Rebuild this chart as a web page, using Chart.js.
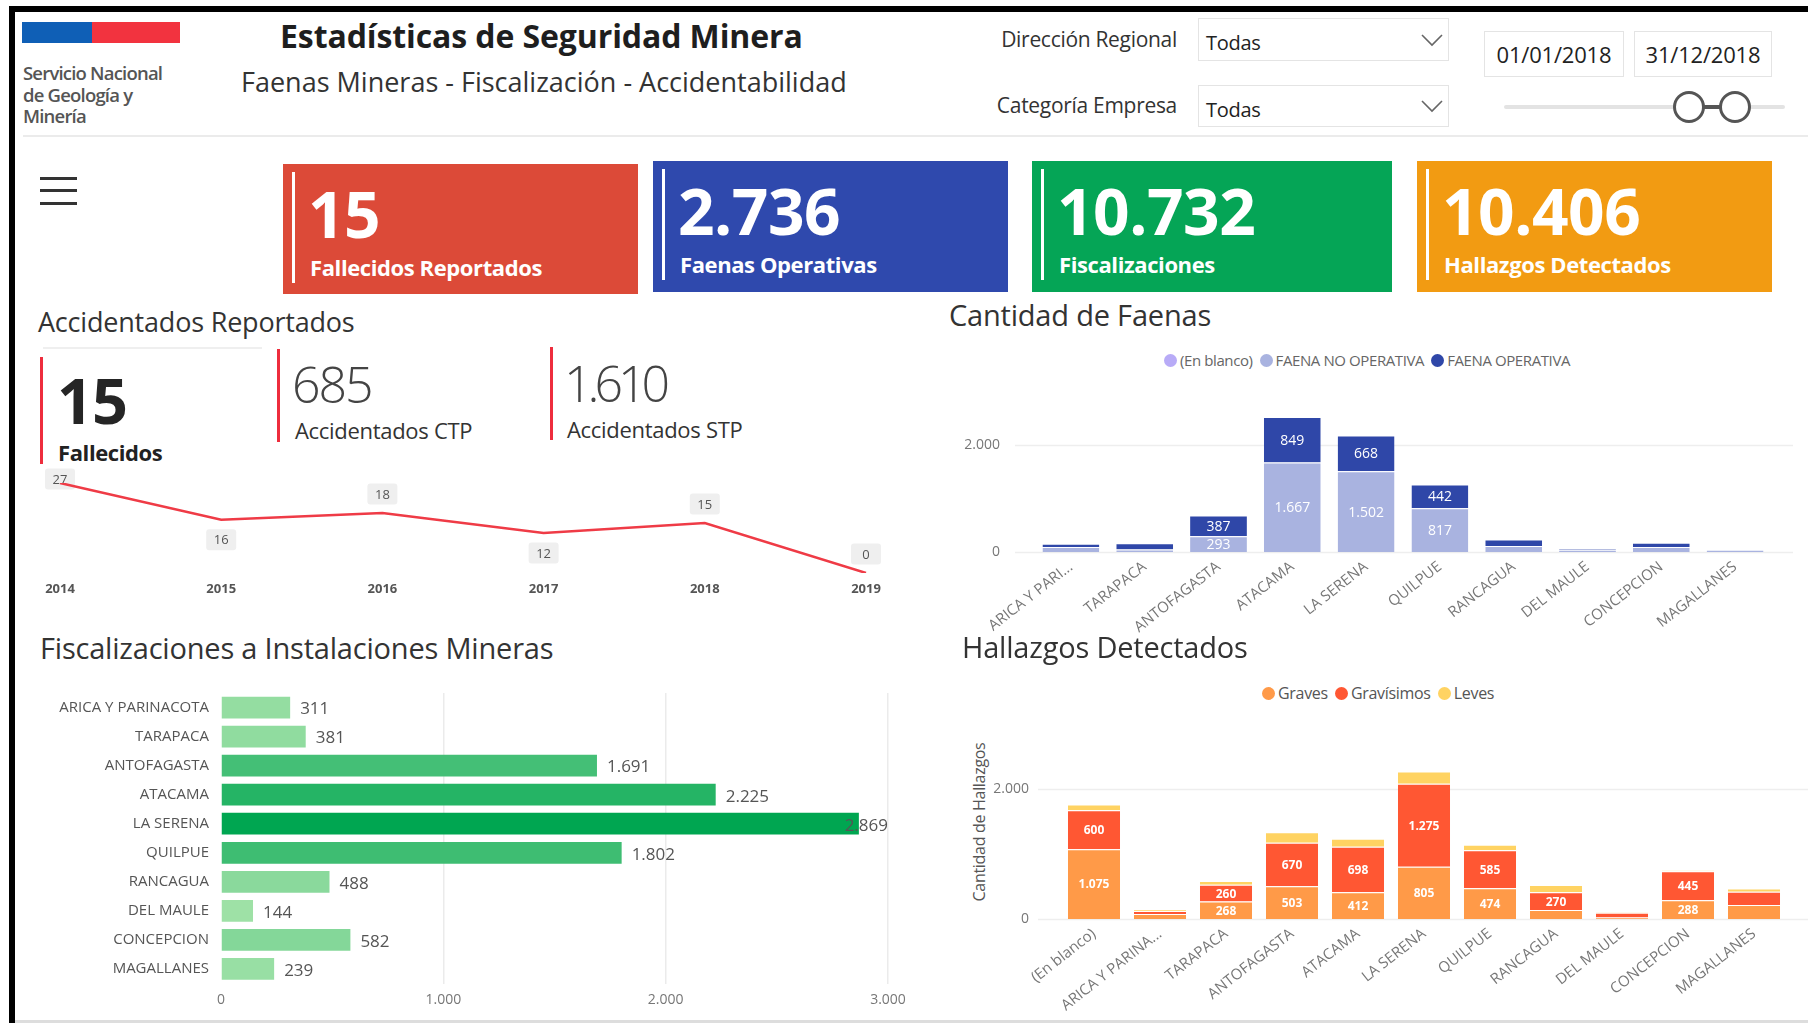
<!DOCTYPE html>
<html><head><meta charset="utf-8">
<script src="https://cdn.jsdelivr.net/npm/chart.js@4.4.1/dist/chart.umd.min.js"></script>
<style>
html,body{margin:0;padding:0;background:#fff;}
body{width:1808px;height:1023px;position:relative;overflow:hidden;font-family:'Open Sans',sans-serif;color:#333;}
.a{position:absolute;white-space:nowrap;}
canvas{position:absolute;}
.box{position:absolute;border:1px solid #E4E4E4;box-sizing:border-box;background:#fff;}
.card{position:absolute;color:#fff;}
.card .ln{position:absolute;left:9px;top:8px;width:3px;height:111px;background:#fff;}
.card .num{position:absolute;left:25px;top:14px;font-size:64px;font-weight:700;line-height:72px;letter-spacing:-0.5px;}
.card .lab{position:absolute;left:27px;top:88px;font-size:22px;font-weight:700;line-height:30px;letter-spacing:-0.4px;}
.ttl{font-size:29px;line-height:36px;color:#333;letter-spacing:-0.2px;}
.leg{position:absolute;display:flex;align-items:center;white-space:nowrap;}
.leg span.d{display:inline-block;border-radius:50%;margin-right:3px;}
.leg span.t{margin-right:7px;}
</style></head><body>

<!-- frame -->
<div class="a" style="left:9px;top:6px;width:1799px;height:6px;background:#000"></div>
<div class="a" style="left:9px;top:6px;width:6px;height:1017px;background:#000"></div>
<div class="a" style="left:15px;top:1020px;width:1793px;height:3px;background:#DDDDDD"></div>

<!-- logo -->
<div class="a" style="left:22px;top:22px;width:70px;height:21px;background:#0F5FB6"></div>
<div class="a" style="left:92px;top:22px;width:88px;height:21px;background:#F2333F"></div>
<div class="a" style="left:23px;top:62px;font-size:18.5px;font-weight:600;line-height:21.5px;color:#555;letter-spacing:-0.8px">Servicio Nacional<br>de Geología y<br>Minería</div>

<!-- titles -->
<div class="a" style="left:280px;top:14px;font-size:32px;font-weight:700;line-height:44px;color:#1E1E1E;letter-spacing:-0.1px">Estadísticas de Seguridad Minera</div>
<div class="a" style="left:241px;top:63px;font-size:27px;line-height:38px;color:#333;letter-spacing:0px">Faenas Mineras - Fiscalización - Accidentabilidad</div>

<!-- filters -->
<div class="a" style="right:631px;top:24px;font-size:21px;line-height:30px;color:#333;letter-spacing:-0.3px">Dirección Regional</div>
<div class="a" style="right:631px;top:90px;font-size:21px;line-height:30px;color:#333;letter-spacing:-0.3px">Categoría Empresa</div>
<div class="box" style="left:1198px;top:18px;width:251px;height:43px"></div>
<div class="a" style="left:1206px;top:28px;font-size:20px;line-height:30px;color:#222;letter-spacing:-0.3px">Todas</div>
<div class="box" style="left:1198px;top:85px;width:251px;height:42px"></div>
<div class="a" style="left:1206px;top:95px;font-size:20px;line-height:30px;color:#222;letter-spacing:-0.3px">Todas</div>
<svg class="a" style="left:1420px;top:33px" width="24" height="14"><polyline points="2,2 12,12 22,2" fill="none" stroke="#666" stroke-width="1.6"/></svg>
<svg class="a" style="left:1420px;top:99px" width="24" height="14"><polyline points="2,2 12,12 22,2" fill="none" stroke="#666" stroke-width="1.6"/></svg>
<div class="box" style="left:1484px;top:31px;width:140px;height:46px"></div>
<div class="a" style="left:1484px;top:39px;width:140px;text-align:center;font-size:22px;line-height:30px;color:#222;letter-spacing:-0.2px">01/01/2018</div>
<div class="box" style="left:1634px;top:31px;width:138px;height:46px"></div>
<div class="a" style="left:1634px;top:39px;width:138px;text-align:center;font-size:22px;line-height:30px;color:#222;letter-spacing:-0.2px">31/12/2018</div>
<!-- slider -->
<div class="a" style="left:1504px;top:105px;width:281px;height:4px;background:#E3E3E3;border-radius:2px"></div>
<div class="a" style="left:1689px;top:105px;width:46px;height:4px;background:#555"></div>
<div class="a" style="left:1673px;top:91px;width:26px;height:26px;border:3px solid #555;border-radius:50%;background:#fff"></div>
<div class="a" style="left:1719px;top:91px;width:26px;height:26px;border:3px solid #555;border-radius:50%;background:#fff"></div>

<div class="a" style="left:23px;top:135px;width:1785px;height:2px;background:#EBEBEB"></div>

<!-- hamburger -->
<div class="a" style="left:40px;top:177px;width:37px;height:3px;background:#333"></div>
<div class="a" style="left:40px;top:189px;width:37px;height:3px;background:#333"></div>
<div class="a" style="left:40px;top:202px;width:37px;height:3px;background:#333"></div>

<!-- KPI cards -->
<div class="card" style="left:283px;top:164px;width:355px;height:130px;background:#DC4A38"><div class="ln"></div><div class="num">15</div><div class="lab">Fallecidos Reportados</div></div>
<div class="card" style="left:653px;top:161px;width:355px;height:131px;background:#2F49AD"><div class="ln"></div><div class="num">2.736</div><div class="lab">Faenas Operativas</div></div>
<div class="card" style="left:1032px;top:161px;width:360px;height:131px;background:#05A556"><div class="ln"></div><div class="num">10.732</div><div class="lab">Fiscalizaciones</div></div>
<div class="card" style="left:1417px;top:161px;width:355px;height:131px;background:#F29B12"><div class="ln"></div><div class="num">10.406</div><div class="lab">Hallazgos Detectados</div></div>

<!-- Accidentados -->
<div class="a ttl" style="left:38px;top:304px;font-size:27px">Accidentados Reportados</div>
<div class="a" style="left:43px;top:347px;width:219px;height:2px;background:#EFEFEF"></div>
<div class="a" style="left:40px;top:357px;width:3px;height:107px;background:#EE2D3D"></div>
<div class="a" style="left:277px;top:349px;width:3px;height:93px;background:#EE2D3D"></div>
<div class="a" style="left:550px;top:347px;width:3px;height:93px;background:#EE2D3D"></div>
<div class="a" style="left:57px;top:364px;font-size:63px;font-weight:700;line-height:72px;color:#252525;letter-spacing:-1px">15</div>
<div class="a" style="left:58px;top:437px;font-size:22px;font-weight:700;line-height:30px;color:#222;letter-spacing:-0.4px">Fallecidos</div>
<div class="a" style="left:292px;top:354px;font-size:50px;font-weight:300;line-height:60px;color:#444;letter-spacing:-2px">685</div>
<div class="a" style="left:295px;top:415px;font-size:22px;line-height:30px;color:#333;letter-spacing:-0.3px">Accidentados CTP</div>
<div class="a" style="left:564px;top:353px;font-size:50px;font-weight:300;line-height:60px;color:#444;letter-spacing:-5px">1.610</div>
<div class="a" style="left:567px;top:414px;font-size:22px;line-height:30px;color:#333;letter-spacing:-0.3px">Accidentados STP</div>
<canvas id="lineChart" width="920" height="170" style="left:0px;top:440px"></canvas>

<!-- Faenas -->
<div class="a ttl" style="left:949px;top:297px">Cantidad de Faenas</div>
<div class="leg" id="legFaenas" style="left:1164px;top:350px;height:20px;font-size:15px;color:#666;letter-spacing:-0.4px"></div>
<canvas id="faenasChart" width="868" height="270" style="left:940px;top:370px"></canvas>

<!-- Fiscalizaciones -->
<div class="a ttl" style="left:40px;top:630px">Fiscalizaciones a Instalaciones Mineras</div>
<canvas id="fiscChart" width="900" height="348.5" style="left:20px;top:671.5px"></canvas>

<!-- Hallazgos -->
<div class="a ttl" style="left:962px;top:629px">Hallazgos Detectados</div>
<div class="leg" id="legHall" style="left:1262px;top:683px;height:20px;font-size:16px;color:#555;letter-spacing:-0.3px"></div>
<div class="a" style="left:979px;top:822px;font-size:16px;line-height:20px;color:#555;letter-spacing:-0.3px;transform:translate(-50%,-50%) rotate(-90deg)">Cantidad de Hallazgos</div>
<canvas id="hallChart" width="868" height="323" style="left:940px;top:700px"></canvas>

<script>
// ---------- DATA ----------
const years = ['2014','2015','2016','2017','2018','2019'];
const fallecidos = [27, 16, 18, 12, 15, 0];
const fallecidosLabelPos = ['above','below','above','below','above','above'];

const faenasRegions = ['ARICA Y PARI...','TARAPACA','ANTOFAGASTA','ATACAMA','LA SERENA','QUILPUE','RANCAGUA','DEL MAULE','CONCEPCION','MAGALLANES'];
const faenasEnBlanco    = [0, 0, 0, 0, 0, 0, 0, 0, 0, 0];
const faenasNoOperativa = [95, 45, 293, 1667, 1502, 817, 110, 40, 95, 40];
const faenasOperativa   = [60, 120, 387, 849, 668, 442, 125, 20, 75, 5];
const faenasTicks = [0, 2000];

const fiscRegions = ['ARICA Y PARINACOTA','TARAPACA','ANTOFAGASTA','ATACAMA','LA SERENA','QUILPUE','RANCAGUA','DEL MAULE','CONCEPCION','MAGALLANES'];
const fiscValues = [311, 381, 1691, 2225, 2869, 1802, 488, 144, 582, 239];
const fiscTicks = [0, 1000, 2000, 3000];

const hallRegions = ['(En blanco)','ARICA Y PARINA...','TARAPACA','ANTOFAGASTA','ATACAMA','LA SERENA','QUILPUE','RANCAGUA','DEL MAULE','CONCEPCION','MAGALLANES'];
const hallGraves     = [1075, 77, 268, 503, 412, 805, 474, 140, 25, 288, 215];
const hallGravisimos = [600, 46, 260, 670, 698, 1275, 585, 270, 70, 445, 205];
const hallLeves      = [87, 20, 55, 160, 125, 190, 85, 115, 8, 15, 50];
const hallTicks = [0, 2000];

// ---------- HELPERS ----------
Chart.defaults.font.family = "'Open Sans', sans-serif";
const fmt = v => String(v).replace(/\B(?=(\d{3})+(?!\d))/g, '.');

function buildLegend(id, items, size){
  const el = document.getElementById(id);
  items.forEach(it => {
    const d = document.createElement('span'); d.className='d';
    d.style.width = size+'px'; d.style.height = size+'px'; d.style.background = it.color;
    const t = document.createElement('span'); t.className='t'; t.textContent = it.label;
    el.appendChild(d); el.appendChild(t);
  });
}

const gridExt = {
  id:'gridExt',
  beforeDatasetsDraw(chart, args, opts){
    const {ctx} = chart; const y = chart.scales.y;
    ctx.save(); ctx.strokeStyle = opts.color; ctx.lineWidth = 1.5;
    opts.values.forEach(v => {
      const py = Math.round(y.getPixelForValue(v)) + 0.5;
      ctx.beginPath(); ctx.moveTo(opts.x0, py); ctx.lineTo(opts.x1, py); ctx.stroke();
    });
    ctx.restore();
  }
};

const stackLabels = {
  id:'stackLabels',
  afterDatasetsDraw(chart, args, opts){
    const {ctx} = chart;
    ctx.save();
    ctx.font = opts.font; ctx.textAlign='center'; ctx.textBaseline='middle';
    chart.data.datasets.forEach((ds, di) => {
      if (!ds.showLabels) return;
      const meta = chart.getDatasetMeta(di);
      meta.data.forEach((bar, i) => {
        const p = bar.getProps(['x','y','base'], true);
        const h = Math.abs(p.base - p.y);
        if (h < opts.minHeight) return;
        ctx.fillStyle = ds.labelColor || '#fff';
        ctx.fillText(fmt(ds.data[i]), p.x, (p.y + p.base)/2 + 1);
      });
    });
    ctx.restore();
  }
};

// ---------- LINE CHART ----------
const lineLabels = {
  id:'lineLabels',
  beforeDatasetsDraw(chart){
    const {ctx, chartArea} = chart;
    const meta = chart.getDatasetMeta(0);
    ctx.save();
    ctx.font = "13px 'Open Sans'"; ctx.textAlign='center'; ctx.textBaseline='middle';
    meta.data.forEach((pt, i) => {
      let cy = fallecidosLabelPos[i] === 'above' ? pt.y - 19 : pt.y + 20;
      cy = Math.max(cy, chartArea.top - 4);
      const w = 30, h = 21;
      ctx.fillStyle = '#EFEFEF';
      ctx.beginPath(); ctx.roundRect(pt.x - w/2, cy - h/2, w, h, 3); ctx.fill();
      ctx.fillStyle = '#555'; ctx.fillText(String(fallecidos[i]), pt.x, cy + 1);
    });
    ctx.restore();
  }
};
new Chart(document.getElementById('lineChart'), {
  type:'line',
  data:{labels:years, datasets:[{data:fallecidos, borderColor:'#EF3B46', borderWidth:2.5, pointRadius:0, tension:0, fill:false}]},
  options:{
    responsive:false, animation:false,
    plugins:{legend:{display:false}, tooltip:{enabled:false}},
    layout:{padding:{left:60, right:54, top:43, bottom:0}},
    scales:{
      x:{grid:{display:false, drawTicks:false}, border:{display:false},
         ticks:{font:{size:13, weight:'bold'}, color:'#555', padding:8, maxRotation:0, autoSkip:false},
         afterFit(s){ s.height = 37; }},
      y:{display:false, min:0, max:27}
    }
  },
  plugins:[lineLabels]
});

// ---------- FAENAS ----------
const faenasSeries = [
  {label:'(En blanco)', data:faenasEnBlanco, color:'#B8ABF7', showLabels:false},
  {label:'FAENA NO OPERATIVA', data:faenasNoOperativa, color:'#A9B3E0', showLabels:true},
  {label:'FAENA OPERATIVA', data:faenasOperativa, color:'#2F47A8', showLabels:true}
];
buildLegend('legFaenas', faenasSeries, 13);
new Chart(document.getElementById('faenasChart'), {
  type:'bar',
  data:{labels:faenasRegions, datasets:faenasSeries.map(s => ({label:s.label, data:s.data, backgroundColor:s.color, showLabels:s.showLabels, borderColor:'#fff', borderWidth:{top:1}, borderSkipped:'start', categoryPercentage:1, barPercentage:0.77}))},
  options:{
    responsive:false, animation:false,
    plugins:{legend:{display:false}, tooltip:{enabled:false},
      gridExt:{values:faenasTicks, x0:75, x1:853, color:'#EEEEEE'},
      stackLabels:{font:"14px 'Open Sans'", minHeight:15}},
    layout:{padding:{left:0, right:36, top:41.6, bottom:0}},
    scales:{
      x:{stacked:true, grid:{display:false, drawTicks:false}, border:{display:false},
         ticks:{font:{size:15}, color:'#777', padding:6, minRotation:38, maxRotation:38, autoSkip:false},
         afterFit(s){ s.height = 88; }},
      y:{stacked:true, min:0, max:2600, grid:{display:false, drawTicks:false}, border:{display:false},
         afterBuildTicks(s){ s.ticks = faenasTicks.map(v => ({value:v})); },
         ticks:{font:{size:14}, color:'#777', padding:34, callback:v => fmt(v)},
         afterFit(s){ s.width = 94; }}
    }
  },
  plugins:[gridExt, stackLabels]
});

// ---------- FISCALIZACIONES ----------
const maxFisc = Math.max(...fiscValues);
function greenFor(v){
  const t = v / maxFisc, a = [166,228,171], b = [0,166,81];
  return 'rgb(' + a.map((c,k) => Math.round(c + (b[k]-c)*t)).join(',') + ')';
}
const fiscLabels = {
  id:'fiscLabels',
  afterDatasetsDraw(chart){
    const {ctx, chartArea} = chart;
    const meta = chart.getDatasetMeta(0);
    ctx.save(); ctx.font = "17px 'Open Sans'"; ctx.fillStyle = '#555';
    ctx.textAlign='left'; ctx.textBaseline='middle';
    meta.data.forEach((bar, i) => {
      const txt = fmt(fiscValues[i]); const w = ctx.measureText(txt).width;
      let x = bar.x + 10; if (x + w > chartArea.right) x = chartArea.right - w;
      ctx.fillText(txt, x, bar.y + 2);
    });
    ctx.restore();
  }
};
new Chart(document.getElementById('fiscChart'), {
  type:'bar',
  data:{labels:fiscRegions, datasets:[{data:fiscValues, backgroundColor:fiscValues.map(greenFor), categoryPercentage:1, barPercentage:0.75}]},
  options:{
    indexAxis:'y', responsive:false, animation:false,
    plugins:{legend:{display:false}, tooltip:{enabled:false}},
    layout:{padding:{left:0, right:32, top:0, bottom:0}},
    scales:{
      y:{grid:{display:false, drawTicks:false}, border:{display:false},
         ticks:{font:{size:15}, color:'#555', padding:12, autoSkip:false},
         afterFit(s){ s.width = 201; }},
      x:{min:0, max:3000, border:{display:false},
         grid:{drawTicks:false, color:c => c.tick && c.tick.value === 0 ? 'rgba(0,0,0,0)' : '#EBEBEB', lineWidth:1.5},
         afterBuildTicks(s){ s.ticks = fiscTicks.map(v => ({value:v})); },
         ticks:{font:{size:14}, color:'#777', padding:8, callback:v => fmt(v)},
         afterFit(s){ s.height = 36.5; }}
    }
  },
  plugins:[fiscLabels]
});

// ---------- HALLAZGOS ----------
const hallSeries = [
  {label:'Graves', data:hallGraves, color:'#FF9A48', showLabels:true},
  {label:'Gravísimos', data:hallGravisimos, color:'#FF5733', showLabels:true},
  {label:'Leves', data:hallLeves, color:'#FFD362', showLabels:true}
];
buildLegend('legHall', hallSeries, 13);
new Chart(document.getElementById('hallChart'), {
  type:'bar',
  data:{labels:hallRegions, datasets:hallSeries.map(s => ({label:s.label, data:s.data, backgroundColor:s.color, showLabels:s.showLabels, borderColor:'#fff', borderWidth:{top:1}, borderSkipped:'start', categoryPercentage:1, barPercentage:0.79}))},
  options:{
    responsive:false, animation:false,
    plugins:{legend:{display:false}, tooltip:{enabled:false},
      gridExt:{values:hallTicks, x0:98, x1:868, color:'#EEEEEE'},
      stackLabels:{font:"bold 12px 'Open Sans'", minHeight:15}},
    layout:{padding:{left:0, right:21, top:69.5, bottom:0}},
    scales:{
      x:{stacked:true, grid:{display:false, drawTicks:false}, border:{display:false},
         ticks:{font:{size:15}, color:'#777', padding:6, minRotation:38, maxRotation:38, autoSkip:false},
         afterFit(s){ s.height = 104; }},
      y:{stacked:true, min:0, max:2300, grid:{display:false, drawTicks:false}, border:{display:false},
         afterBuildTicks(s){ s.ticks = hallTicks.map(v => ({value:v})); },
         ticks:{font:{size:14}, color:'#777', padding:32, callback:v => fmt(v)},
         afterFit(s){ s.width = 121; }}
    }
  },
  plugins:[gridExt, stackLabels]
});
</script>
</body></html>
